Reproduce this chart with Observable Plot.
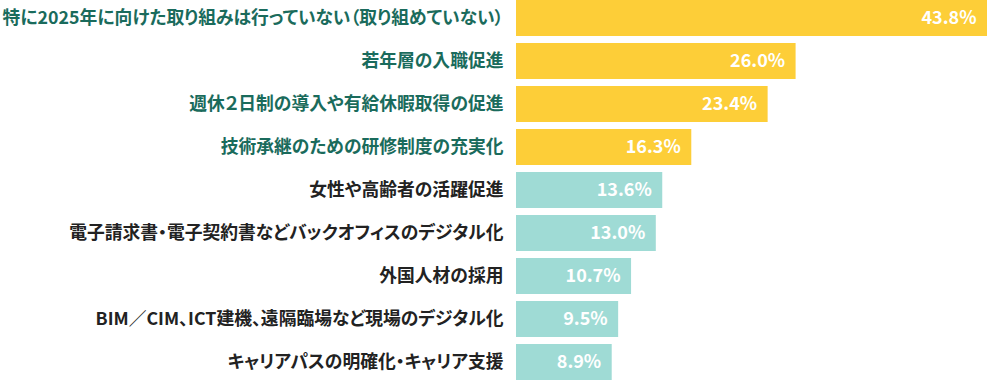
<!DOCTYPE html>
<html><head><meta charset="utf-8">
<script src="https://cdn.jsdelivr.net/npm/d3@7"></script>
<script src="https://cdn.jsdelivr.net/npm/@observablehq/plot@0.6"></script>
<style>
html,body{margin:0;padding:0;background:#fff;}
svg{display:block;font-family:"Noto Sans CJK JP","Noto Sans",sans-serif;}
svg text{font-feature-settings:"palt";}
</style></head><body>
<div id="chart"></div>
<script>
const categories = [
  "特に2025年に向けた取り組みは行っていない（取り組めていない）",
  "若年層の入職促進",
  "週休２日制の導入や有給休暇取得の促進",
  "技術承継のための研修制度の充実化",
  "女性や高齢者の活躍促進",
  "電子請求書・電子契約書などバックオフィスのデジタル化",
  "外国人材の採用",
  "BIM／CIM、ICT建機、遠隔臨場など現場のデジタル化",
  "キャリアパスの明確化・キャリア支援"
];
const values = [43.8, 26.0, 23.4, 16.3, 13.6, 13.0, 10.7, 9.5, 8.9];
const highlighted = [true, true, true, true, false, false, false, false, false];

const data = categories.map((c, i) => ({cat: c, value: values[i], hi: highlighted[i]}));

const chart = Plot.plot({
  width: 987,
  height: 380,
  marginLeft: 516,
  marginRight: 0,
  marginTop: 0,
  marginBottom: 0,
  style: {fontFamily: '"Noto Sans CJK JP","Noto Sans",sans-serif', background: "#fff"},
  x: {domain: [0, 43.8], axis: null},
  y: {domain: categories, padding: 0.163, paddingOuter: 0, axis: null},
  marks: [
    Plot.barX(data, {y: "cat", x: "value", fill: d => d.hi ? "#fdce38" : "#9fdbd5"}),
    Plot.text(data, {y: "cat", x: "value", text: d => d.value.toFixed(1) + "%", textAnchor: "end", dx: -11, fill: "#fff", fontWeight: "bold", fontSize: 18}),
    Plot.text(data, {y: "cat", x: 0, text: "cat", textAnchor: "end", dx: -13, fill: d => d.hi ? "#1a6b5c" : "#222", fontWeight: "bold", fontSize: 17.8})
  ]
});
document.getElementById("chart").appendChild(chart);
</script>
</body></html>
